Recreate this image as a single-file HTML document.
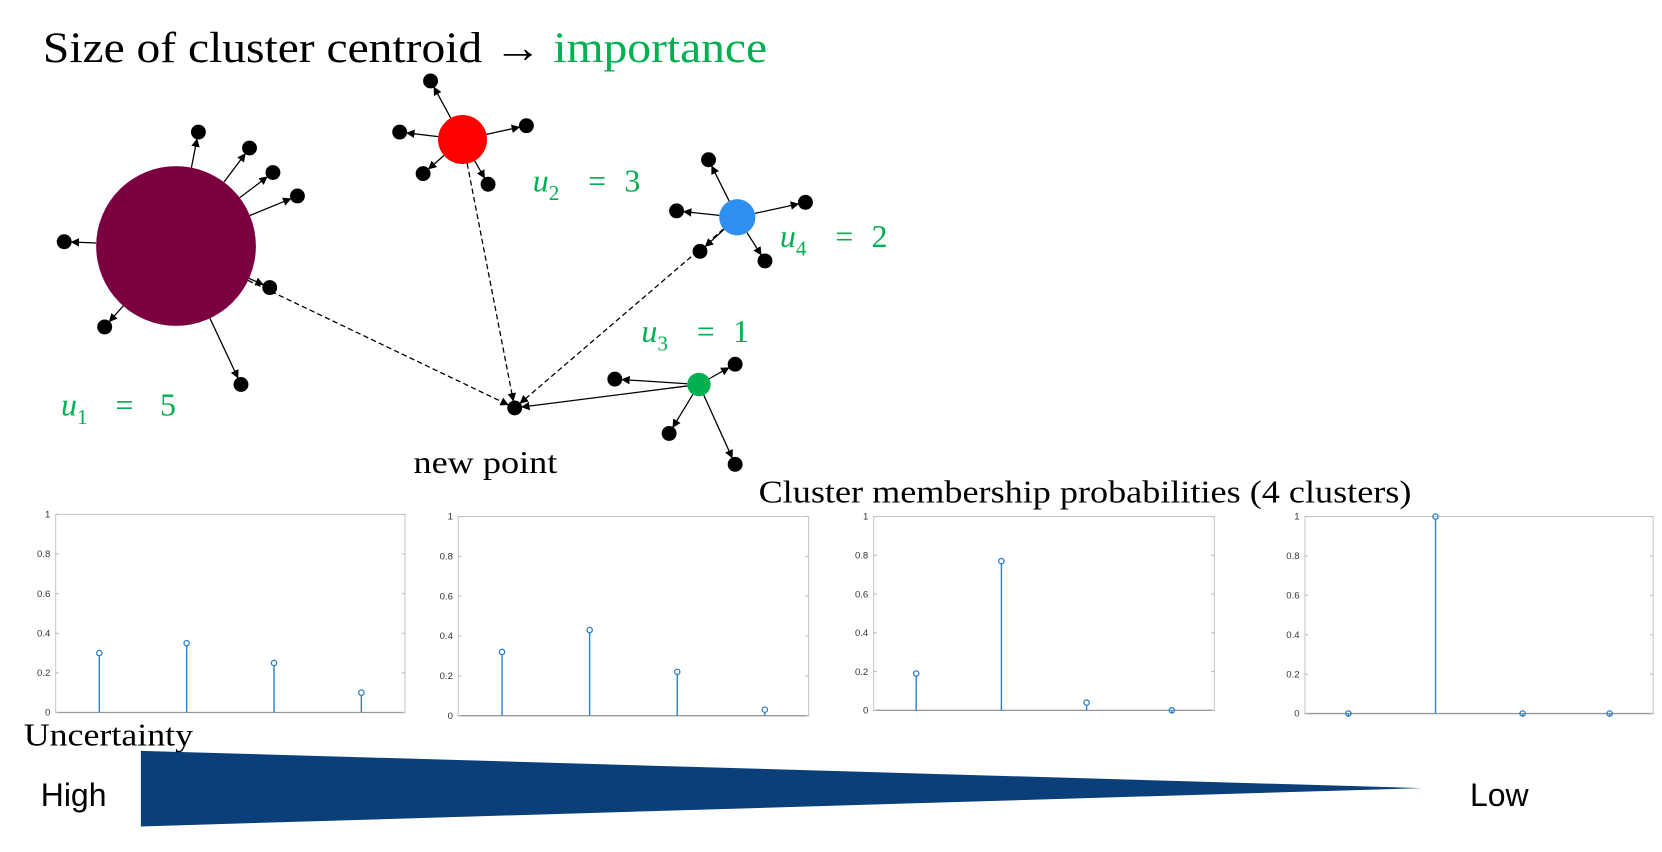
<!DOCTYPE html>
<html><head><meta charset="utf-8"><style>
html,body{margin:0;padding:0;background:#fff;width:1662px;height:852px;overflow:hidden}
svg{display:block}
.serif{font-family:"Liberation Serif",serif}
.sans{font-family:"Liberation Sans",sans-serif}
</style></head><body>
<svg id="svg" width="1662" height="852" viewBox="0 0 1560 800">
<defs>
<marker id="ah" markerWidth="8" markerHeight="8" refX="7" refY="4" orient="auto" markerUnits="userSpaceOnUse"><path d="M0,0 L8,4 L0,8 z" fill="#000"/></marker>
</defs>
<text x="40" y="58" class="serif" font-size="41" textLength="680" lengthAdjust="spacingAndGlyphs">Size of cluster centroid → <tspan fill="#00b050">importance</tspan></text>
<g id="net"></g>
<g class="serif" font-size="30" fill="#00b050" font-style="italic">
<text x="57" y="390">u<tspan font-size="20" dy="8" font-style="normal">1</tspan><tspan dy="-8" font-style="normal" x="108">=</tspan><tspan font-style="normal" x="150">5</tspan></text>
<text x="500" y="180">u<tspan font-size="20" dy="8" font-style="normal">2</tspan><tspan dy="-8" font-style="normal" x="552">=</tspan><tspan font-style="normal" x="586">3</tspan></text>
<text x="732" y="232">u<tspan font-size="20" dy="8" font-style="normal">4</tspan><tspan dy="-8" font-style="normal" x="784">=</tspan><tspan font-style="normal" x="818">2</tspan></text>
<text x="602" y="321">u<tspan font-size="20" dy="8" font-style="normal">3</tspan><tspan dy="-8" font-style="normal" x="654">=</tspan><tspan font-style="normal" x="688">1</tspan></text>
</g>
<text x="388" y="444" class="serif" font-size="30" textLength="135" lengthAdjust="spacingAndGlyphs">new point</text>
<text x="712" y="472" class="serif" font-size="30" textLength="613" lengthAdjust="spacingAndGlyphs">Cluster membership probabilities (4 clusters)</text>
<g id="charts"></g>
<text x="22" y="700" class="serif" font-size="30" textLength="159" lengthAdjust="spacingAndGlyphs">Uncertainty</text>
<polygon points="132,705 132,776 1335,740" fill="#0a3f7a"/>
<text x="38" y="757" class="sans" font-size="30">High</text>
<text x="1380" y="757" class="sans" font-size="30">Low</text>
</svg>
<script>
const NS="http://www.w3.org/2000/svg";
function mk(tag,attrs,parent){const e=document.createElementNS(NS,tag);for(const k in attrs)e.setAttribute(k,attrs[k]);parent.appendChild(e);return e;}
const centroids=[[165,231,75,"#7b0041"],[434,131,23,"#ff0000"],[692,204,17,"#2e8ff0"],[656,361,11,"#00b050"]];
const sats=[
 [[186,124],[234,139],[256,162],[279,184],[60,227],[253,270],[98,307],[226,361]],
 [[404,76],[375,124],[494,118],[397,163],[458,173]],
 [[665,150],[756,190],[635,198],[657,236],[718,245]],
 [[577,356],[690,342],[628,407],[690,436]]];
const np=[483,383];
const net=document.getElementById('net');
centroids.forEach((c,i)=>{
  sats[i].forEach(s=>{
    const dx=s[0]-c[0],dy=s[1]-c[1],d=Math.hypot(dx,dy);
    const l=mk('line',{x1:c[0]+dx/d*c[2],y1:c[1]+dy/d*c[2],x2:s[0]-dx/d*7,y2:s[1]-dy/d*7,stroke:'#000','stroke-width':1.2,'marker-end':'url(#ah)'},net);
    
    
    const dot=mk('circle',{cx:s[0],cy:s[1],r:7,fill:'#000'},net);
    
    
  });
  const dx=np[0]-c[0],dy=np[1]-c[1],d=Math.hypot(dx,dy);
  const l=mk('line',{x1:c[0]+dx/d*c[2],y1:c[1]+dy/d*c[2],x2:np[0]-dx/d*7,y2:np[1]-dy/d*7,stroke:'#000','stroke-width':1.2,'marker-end':'url(#ah)'},net);
  if(i<3)l.setAttribute('stroke-dasharray','5,3');
  
  
  const cc=mk('circle',{cx:c[0],cy:c[1],r:c[2],fill:c[3]},net);
  
  
});
const npd=mk('circle',{cx:np[0],cy:np[1],r:7,fill:'#000'},net);


</script>
<script>
const clusters=[1,2,3,4];
const probs1=[0.30,0.35,0.25,0.10];
const probs2=[0.32,0.43,0.22,0.03];
const probs3=[0.19,0.77,0.04,0.00];
const probs4=[0.00,1.00,0.00,0.00];
const yTicks=[0,0.2,0.4,0.6,0.8,1];
const yTickLabels=["0","0.2","0.4","0.6","0.8","1"];
const series=[probs1,probs2,probs3,probs4];
const boxes=[[52,483,380,669],[430,485,759,672],[820,485,1140,667],[1225,485,1552,670]];
const charts=document.getElementById('charts');
series.forEach((vals,ci)=>{
  const [x0,y0,x1,y1]=boxes[ci];
  const g=mk('g',{},charts);
  
  
  const bw=(x1-x0)/(clusters.length);
  const xs=c=>x0+bw*(c-0.5);
  const ys=v=>y1-v*(y1-y0);
  const fr=mk('rect',{x:x0,y:y0,width:x1-x0,height:y1-y0,fill:'#fff',stroke:'#c8c8c8','stroke-width':1},g);
  
  
  mk('line',{x1:x0,y1:y1,x2:x1,y2:y1,stroke:'#999','stroke-width':1.2},g);
  yTicks.forEach((t,i)=>{
    const tl=mk('text',{x:x0-5,y:ys(t)+3,'font-size':9,'text-anchor':'end',fill:'#333','font-family':'Liberation Sans, sans-serif'},g);
    tl.textContent=yTickLabels[i];
    
    
    mk('line',{x1:x0,y1:ys(t),x2:x0+3,y2:ys(t),stroke:'#bbb'},g);
    mk('line',{x1:x1,y1:ys(t),x2:x1-3,y2:ys(t),stroke:'#bbb'},g);
  });
  clusters.forEach((c,i)=>{
    const st=mk('line',{x1:xs(c),y1:y1,x2:xs(c),y2:ys(vals[i])+2.5,stroke:'#2a7fc9','stroke-width':1.3},g);
    
    
    const m=mk('circle',{cx:xs(c),cy:ys(vals[i]),r:2.5,fill:'none',stroke:'#2a7fc9','stroke-width':1.2},g);
    
    
  });
});
</script>
</body></html>
